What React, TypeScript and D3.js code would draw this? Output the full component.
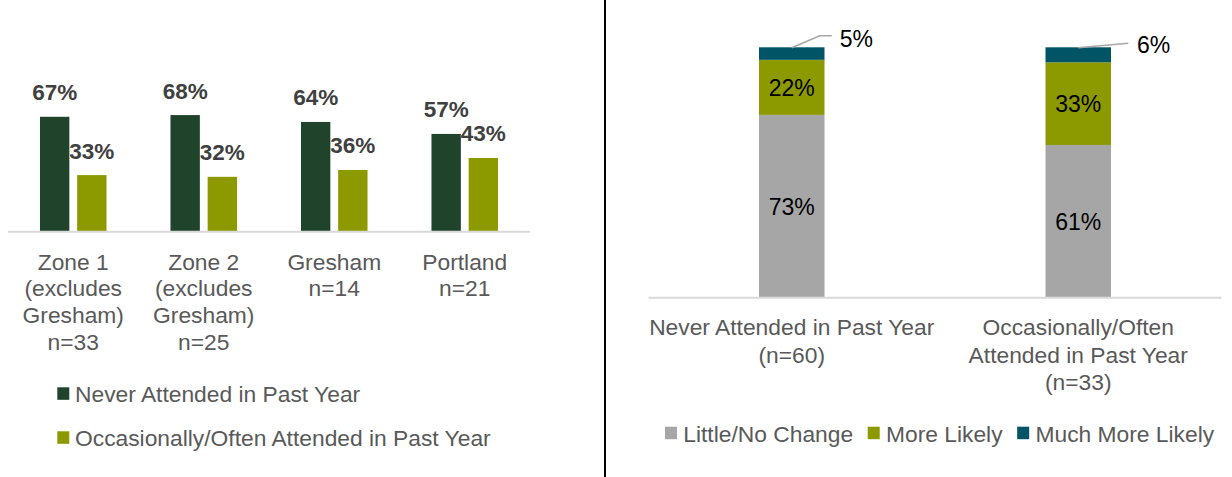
import { useEffect, useRef } from 'react'
import * as d3 from 'd3'

// left chart: attendance by area
const areaLabels = [
  ['Zone 1', '(excludes', 'Gresham)', 'n=33'],
  ['Zone 2', '(excludes', 'Gresham)', 'n=25'],
  ['Gresham', 'n=14'],
  ['Portland', 'n=21'],
]
const neverAttended = [0.67, 0.68, 0.64, 0.57]
const occasionallyAttended = [0.33, 0.32, 0.36, 0.43]
const leftSeries = ['Never Attended in Past Year', 'Occasionally/Often Attended in Past Year']

// right chart: likelihood by attendance group
const groupLabels = [
  ['Never Attended in Past Year', '(n=60)'],
  ['Occasionally/Often', 'Attended in Past Year', '(n=33)'],
]
const littleNoChange = [0.73, 0.61]
const moreLikely = [0.22, 0.33]
const muchMoreLikely = [0.05, 0.06]
const rightSeries = ['Little/No Change', 'More Likely', 'Much More Likely']

const W = 1232
const H = 477
const FONT = '"Liberation Sans", Arial, sans-serif'
const LABEL_SIZE = 22.8
const TEXT_GRAY = '#595959'
const AXIS_GRAY = '#d9d9d9'
const DARK_GREEN = '#20432b'
const OLIVE = '#8c9a00'
const GRAY = '#a6a6a6'
const TEAL = '#005465'

const pct = d3.format('.0%')

export default function App() {
  const svgRef = useRef<SVGSVGElement | null>(null)

  useEffect(() => {
    if (!svgRef.current) return
    const svg = d3.select(svgRef.current)
    svg.selectAll('*').remove()

    // ---------- left chart ----------
    const left = svg.append('g')
    const baseL = 231.7
    const x0 = d3
      .scaleBand<number>()
      .domain(d3.range(areaLabels.length))
      .range([8, 530])
    const x1 = d3
      .scaleBand<number>()
      .domain([0, 1])
      .range([x0.bandwidth() * 0.245, x0.bandwidth() * 0.755])
      .paddingInner(0.21)
    const yL = d3.scaleLinear().domain([0, 1]).range([baseL, 60.2])

    const leftData = [neverAttended, occasionallyAttended]
    const leftColors = [DARK_GREEN, OLIVE]

    leftData.forEach((values, s) => {
      left
        .selectAll(`.bar-l${s}`)
        .data(values)
        .join('rect')
        .attr('class', `bar-l${s}`)
        .attr('x', (_, i) => (x0(i) ?? 0) + (x1(s) ?? 0))
        .attr('y', d => yL(d))
        .attr('width', x1.bandwidth())
        .attr('height', d => baseL - yL(d))
        .attr('fill', leftColors[s])

      left
        .selectAll(`.lbl-l${s}`)
        .data(values)
        .join('text')
        .attr('class', `lbl-l${s}`)
        .attr('x', (_, i) => (x0(i) ?? 0) + (x1(s) ?? 0) + x1.bandwidth() / 2)
        .attr('y', d => yL(d) - 16.5)
        .attr('text-anchor', 'middle')
        .attr('font-family', FONT)
        .attr('font-size', 22.5)
        .attr('font-weight', 'bold')
        .attr('fill', '#404040')
        .text(d => pct(d))
    })

    left
      .append('line')
      .attr('x1', 8)
      .attr('x2', 530)
      .attr('y1', baseL)
      .attr('y2', baseL)
      .attr('stroke', AXIS_GRAY)
      .attr('stroke-width', 2)

    areaLabels.forEach((lines, i) => {
      const t = left
        .append('text')
        .attr('font-family', FONT)
        .attr('font-size', LABEL_SIZE)
        .attr('fill', TEXT_GRAY)
        .attr('text-anchor', 'middle')
      lines.forEach((line, j) => {
        t.append('tspan')
          .attr('x', (x0(i) ?? 0) + x0.bandwidth() / 2)
          .attr('y', 269.7 + j * 26.7)
          .text(line)
      })
    })

    leftSeries.forEach((name, s) => {
      const y = 387.3 + s * 44
      left
        .append('rect')
        .attr('x', 57.3)
        .attr('y', y)
        .attr('width', 12)
        .attr('height', 12.5)
        .attr('fill', leftColors[s])
      left
        .append('text')
        .attr('x', 75)
        .attr('y', y + 14.4)
        .attr('font-family', FONT)
        .attr('font-size', LABEL_SIZE)
        .attr('fill', TEXT_GRAY)
        .text(name)
    })

    // divider
    svg
      .append('line')
      .attr('x1', 605)
      .attr('x2', 605)
      .attr('y1', 0)
      .attr('y2', H)
      .attr('stroke', '#000')
      .attr('stroke-width', 2)

    // ---------- right chart ----------
    const right = svg.append('g')
    const baseR = 297.7
    const xR = d3
      .scaleBand<number>()
      .domain(d3.range(groupLabels.length))
      .range([648.5, 1221.5])
    const barW = 65.5
    const yR = d3.scaleLinear().domain([0, 1]).range([baseR, 47.3])

    const rightData = littleNoChange.map((v, i) => ({
      i,
      values: [v, moreLikely[i], muchMoreLikely[i]],
    }))
    const stack = d3.stack<{ i: number; values: number[] }, number>()
      .keys([0, 1, 2])
      .value((d, k) => d.values[k])
    const layers = stack(rightData)
    const rightColors = [GRAY, OLIVE, TEAL]
    const cx = (i: number) => (xR(i) ?? 0) + xR.bandwidth() / 2

    layers.forEach((layer, k) => {
      right
        .selectAll(`.seg${k}`)
        .data(layer)
        .join('rect')
        .attr('class', `seg${k}`)
        .attr('x', d => cx(d.data.i) - barW / 2)
        .attr('y', d => yR(d[1]))
        .attr('width', barW)
        .attr('height', d => yR(d[0]) - yR(d[1]))
        .attr('fill', rightColors[k])

      if (k < 2) {
        right
          .selectAll(`.seglbl${k}`)
          .data(layer)
          .join('text')
          .attr('class', `seglbl${k}`)
          .attr('x', d => cx(d.data.i))
          .attr('y', d => (yR(d[0]) + yR(d[1])) / 2 + 8.5)
          .attr('text-anchor', 'middle')
          .attr('font-family', FONT)
          .attr('font-size', 23)
          .attr('fill', '#000')
          .text(d => pct(d[1] - d[0]))
      }
    })

    // outside labels with leader lines for the small top segment
    const callouts = [
      { elbow: [28, -11.6], end: [40, -11.6], text: [48, -0.6] },
      { elbow: [50, -4], end: [50, -4], text: [58.7, 5.4] },
    ]
    layers[2].forEach((d, i) => {
      const x = cx(d.data.i)
      const top = yR(d[1])
      const c = callouts[i]
      right
        .append('polyline')
        .attr(
          'points',
          `${x},${top + 0.4} ${x + c.elbow[0]},${top + c.elbow[1]} ${x + c.end[0]},${top + c.end[1]}`
        )
        .attr('fill', 'none')
        .attr('stroke', '#a6a6a6')
        .attr('stroke-width', 1.5)
      right
        .append('text')
        .attr('x', x + c.text[0])
        .attr('y', top + c.text[1])
        .attr('font-family', FONT)
        .attr('font-size', 23)
        .attr('fill', '#000')
        .text(pct(d[1] - d[0]))
    })

    right
      .append('line')
      .attr('x1', 648.5)
      .attr('x2', 1221.5)
      .attr('y1', baseR)
      .attr('y2', baseR)
      .attr('stroke', AXIS_GRAY)
      .attr('stroke-width', 2)

    groupLabels.forEach((lines, i) => {
      const t = right
        .append('text')
        .attr('font-family', FONT)
        .attr('font-size', LABEL_SIZE)
        .attr('fill', TEXT_GRAY)
        .attr('text-anchor', 'middle')
      lines.forEach((line, j) => {
        t.append('tspan')
          .attr('x', cx(i))
          .attr('y', 335.3 + j * 27.3)
          .text(line)
      })
    })

    // horizontal legend
    let lx = 665
    rightSeries.forEach((name, s) => {
      right
        .append('rect')
        .attr('x', lx)
        .attr('y', 426.7)
        .attr('width', 12)
        .attr('height', 12.5)
        .attr('fill', rightColors[s])
      const t = right
        .append('text')
        .attr('x', lx + 18.3)
        .attr('y', 441.7)
        .attr('font-family', FONT)
        .attr('font-size', LABEL_SIZE)
        .attr('fill', TEXT_GRAY)
        .text(name)
      const len = (t.node() as SVGTextElement).getComputedTextLength()
      lx += 18.3 + len + 14.6
    })
  }, [])

  return (
    <svg
      ref={svgRef}
      width={W}
      height={H}
      style={{ position: 'absolute', left: 0, top: 0, background: '#fff' }}
    />
  )
}
